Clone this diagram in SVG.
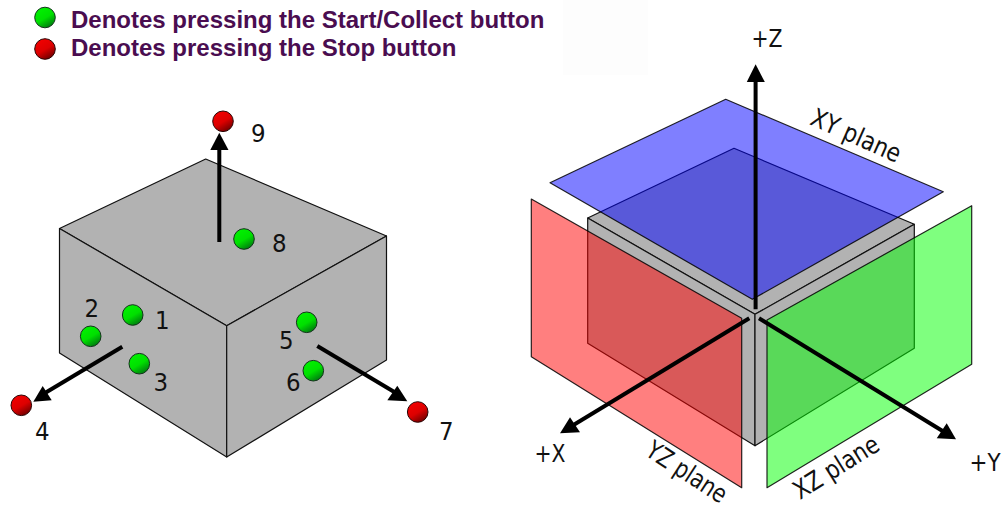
<svg xmlns="http://www.w3.org/2000/svg" width="1002" height="511" viewBox="0 0 1002 511">
<style>
.face{fill:#b2b2b2;stroke:#111;stroke-width:1.2;stroke-linejoin:round}
.plane{fill-opacity:.5;stroke:#000;stroke-opacity:.85;stroke-width:1.2;stroke-linejoin:round}
.axis{stroke:#000;stroke-width:4;fill:none}
.head{fill:#000}
.g{fill:url(#gg);stroke:#12331a;stroke-width:1}
.r{fill:url(#rg);stroke:#2a0505;stroke-width:1}
.lg{font-family:"Liberation Sans",Arial,sans-serif;font-weight:700;font-size:24px;fill:#4a0d50}
.t{font-family:"DejaVu Sans",Verdana,sans-serif;font-stretch:condensed;font-size:25.5px;fill:#111}
</style>
<defs>
<linearGradient id="gg" x1=".25" y1=".1" x2=".75" y2=".95"><stop offset="0" stop-color="#00f000"/><stop offset=".5" stop-color="#00e000"/><stop offset="1" stop-color="#007a10"/></linearGradient>
<linearGradient id="rg" x1=".25" y1=".1" x2=".75" y2=".95"><stop offset="0" stop-color="#f00000"/><stop offset=".5" stop-color="#dd0000"/><stop offset="1" stop-color="#700000"/></linearGradient>
</defs>
<rect width="1002" height="511" fill="#fff"/>
<rect x="563" y="0" width="85" height="75" fill="#fdfdfd"/>
<g id="legend">
<circle class="g" cx="45" cy="17.5" r="10.3"/>
<text class="lg" x="71" y="28">Denotes pressing the Start/Collect button</text>
<circle class="r" cx="45" cy="49" r="10.3"/>
<text class="lg" x="71" y="56">Denotes pressing the Stop button</text>
</g>
<g id="cube-left">
<polygon class="face" points="205.7,159 386.5,236 226.7,325.7 59.5,228.5"/>
<polygon class="face" points="59.5,228.5 226.7,325.7 226.7,457 59.5,353"/>
<polygon class="face" points="226.7,325.7 386.5,236 386.5,360 226.7,457"/>
</g>
<g id="connectors">
<path class="axis" d="M219.3 242V148"/><polygon class="head" points="219.3,132.7 228.5,150 210.3,150"/>
<path class="axis" d="M122.3 346.7L45 393"/><polygon class="head" points="33.3,401.7 51.7,400.3 42.7,386"/>
<path class="axis" d="M317.3 346L396 393"/><polygon class="head" points="407.3,401.3 387.3,400.3 397.3,385.7"/>
</g>
<g id="n1"><circle class="g" cx="132.7" cy="315" r="10.3"/><text class="t" x="155" y="329">1</text></g>
<g id="n2"><circle class="g" cx="90.7" cy="336.3" r="10.3"/><text class="t" x="84.5" y="317.3">2</text></g>
<g id="n3"><circle class="g" cx="139.3" cy="363.7" r="10.3"/><text class="t" x="153.5" y="391">3</text></g>
<g id="n4"><circle class="r" cx="21.3" cy="405.3" r="10.3"/><text class="t" x="35" y="440">4</text></g>
<g id="n5"><circle class="g" cx="306.7" cy="322.3" r="10.3"/><text class="t" x="279" y="349.3">5</text></g>
<g id="n6"><circle class="g" cx="313.3" cy="370.7" r="10.3"/><text class="t" x="286" y="391">6</text></g>
<g id="n7"><circle class="r" cx="417.7" cy="412" r="10.3"/><text class="t" x="439" y="440">7</text></g>
<g id="n8"><circle class="g" cx="244" cy="239" r="10.3"/><text class="t" x="272" y="252.3">8</text></g>
<g id="n9"><circle class="r" cx="223" cy="121.3" r="10.3"/><text class="t" x="251" y="141.7">9</text></g>
<g id="cube-right">
<polygon class="face" points="734,148.3 914.3,224.3 755,314.3 587.7,218"/>
<polygon class="face" points="587.7,218 755,314.3 755,445.7 587.7,343.3"/>
<polygon class="face" points="755,314.3 914.3,224.3 914.3,348.3 755,445.7"/>
</g>
<g id="plane-yz"><polygon class="plane" fill="#ff0000" points="531.3,199 741.7,318.3 741.7,487.7 531.3,356.7"/><text class="t" transform="translate(644 454.5) rotate(33)" textLength="91" lengthAdjust="spacingAndGlyphs">YZ plane</text></g>
<g id="plane-xz"><polygon class="plane" fill="#00ff00" points="971.7,205.7 971.7,364.3 767,487.7 767,320"/><text class="t" transform="translate(800 500) rotate(-32)" textLength="96" lengthAdjust="spacingAndGlyphs">XZ plane</text></g>
<g id="plane-xy"><polygon class="plane" fill="#0000ff" points="725.7,99.3 943.3,191.7 752.3,299.3 550,182.7"/><text class="t" transform="translate(808.7 124) rotate(24)" textLength="96" lengthAdjust="spacingAndGlyphs">XY plane</text></g>
<g id="axes">
<path class="axis" d="M755.6 309.3V80"/><polygon class="head" points="755.6,64.3 764.8,82 746.8,82"/>
<path class="axis" d="M749.3 318.3L571 426.5"/><polygon class="head" points="560,433.3 580,432.3 570,417.3"/>
<path class="axis" d="M759 318.3L945 432.5"/><polygon class="head" points="956,439.3 936.7,438.3 946.7,423.3"/>
</g>
<text class="t" x="751.5" y="47.3" textLength="31" lengthAdjust="spacingAndGlyphs">+Z</text>
<text class="t" x="534.5" y="461.7" textLength="31" lengthAdjust="spacingAndGlyphs">+X</text>
<text class="t" x="969.5" y="470.7" textLength="31" lengthAdjust="spacingAndGlyphs">+Y</text>
</svg>
